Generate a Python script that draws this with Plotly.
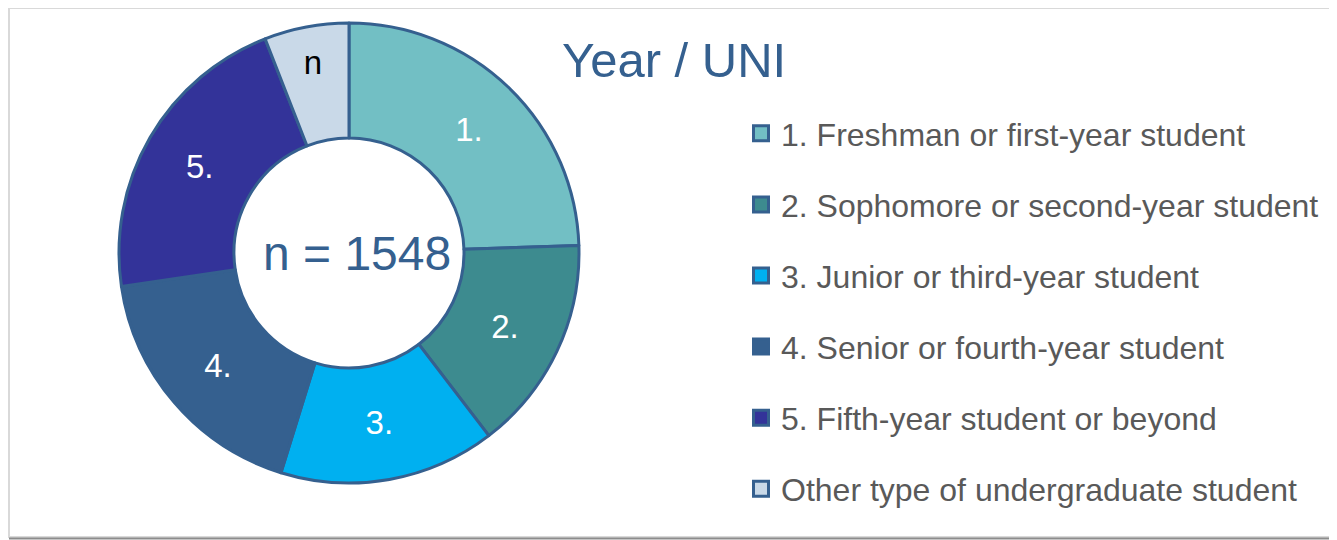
import plotly.graph_objects as go

W, H = 1337, 540
OFF = 8  # page margin around the plot div

categories = [
    "1. Freshman or first-year student",
    "2. Sophomore or second-year student",
    "3. Junior or third-year student",
    "4. Senior or fourth-year student",
    "5. Fifth-year student or beyond",
    "Other type of undergraduate student",
]
short_labels = ["1.", "2.", "3.", "4.", "5.", "n"]
counts = [379, 234, 235, 277, 331, 92]
colors = ["#72BFC4", "#3D8B8F", "#00B0F0", "#35608F", "#333399", "#C9D9E8"]
text_colors = ["white", "white", "white", "white", "white", "black"]

edge = "#35608F"
font_family = "Liberation Sans, Arial, sans-serif"


def px_x(x):
    return (x - OFF) / W


def px_y(y):
    return 1 - (y - OFF) / H


fig = go.Figure()

# donut
cx, cy, r = 349, 253, 230
fig.add_trace(go.Pie(
    labels=categories,
    values=counts,
    text=short_labels,
    textinfo="text",
    textposition="inside",
    insidetextorientation="horizontal",
    textfont=dict(family=font_family, size=33, color=text_colors),
    hole=0.5,
    sort=False,
    direction="clockwise",
    rotation=0,
    marker=dict(colors=colors, line=dict(color=edge, width=3)),
    domain=dict(x=[px_x(cx - r), px_x(cx + r)], y=[px_y(cy + r), px_y(cy - r)]),
    showlegend=False,
    hoverinfo="label+value+percent",
))

# legend entries, one group each so the gap can be set
for name, col in zip(categories, colors):
    fig.add_trace(go.Scatter(
        x=[None], y=[None], mode="markers", name=name, legendgroup=name,
        marker=dict(symbol="square", size=15, color=col, line=dict(color=edge, width=3)),
    ))

fig.add_annotation(
    x=px_x(357), y=px_y(cy), xref="paper", yref="paper",
    xanchor="center", yanchor="middle",
    text="n = 1548", showarrow=False,
    font=dict(family=font_family, size=48, color=edge),
)

fig.add_annotation(
    x=px_x(560), y=px_y(60), xref="paper", yref="paper",
    xanchor="left", yanchor="middle",
    text="Year / UNI", showarrow=False,
    font=dict(family=font_family, size=49, color=edge),
)

# chart frame
fig.add_shape(type="rect", xref="paper", yref="paper",
              x0=px_x(9), x1=px_x(1360), y0=px_y(537), y1=px_y(8),
              line=dict(color="#D9D9D9", width=2), layer="below")
fig.add_shape(type="line", xref="paper", yref="paper",
              x0=px_x(9), x1=px_x(1360), y0=px_y(538.5), y1=px_y(538.5),
              line=dict(color="#8C8C8C", width=2))

fig.update_layout(
    width=W, height=H,
    margin=dict(l=0, r=0, t=0, b=0),
    paper_bgcolor="white",
    plot_bgcolor="white",
    xaxis=dict(visible=False),
    yaxis=dict(visible=False),
    legend=dict(
        x=px_x(741), y=px_y(106), xanchor="left", yanchor="top",
        font=dict(family=font_family, size=32, color="#595959"),
        tracegroupgap=26.5, itemsizing="trace", bgcolor="rgba(0,0,0,0)",
    ),
)

fig.write_html("out.html")
